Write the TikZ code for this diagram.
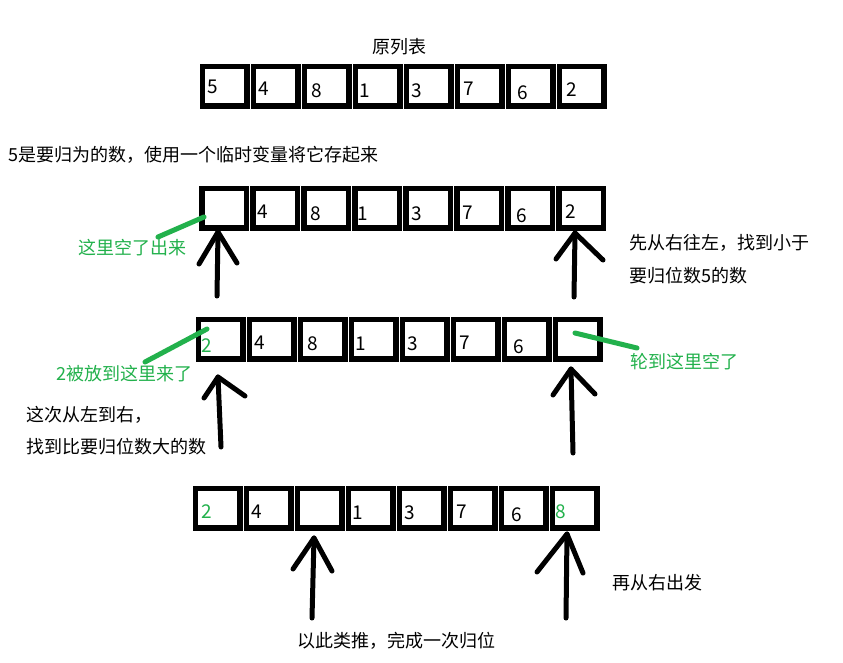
\documentclass[tikz,border=0pt]{standalone}
\usepackage{fontspec}
\setmainfont{Noto Sans CJK SC}
\definecolor{pgreen}{HTML}{22B14C}
\begin{document}
\begin{tikzpicture}[x=1pt,y=-1pt,
  cell/.style={draw=black,line width=5.5pt,minimum width=44.5pt,minimum height=39.5pt,inner sep=0pt,anchor=north west},
  num/.style={inner sep=0pt,font=\fontsize{19}{19}\selectfont},
  gnum/.style={num,text=pgreen},
  lbl/.style={inner sep=0pt,font=\fontsize{18}{18}\selectfont,anchor=west},
  glbl/.style={lbl,text=pgreen},
  arr/.style={line width=5pt,line cap=round,line join=round},
  gline/.style={line width=5pt,draw=pgreen,line cap=round}]
\useasboundingbox (0,0) rectangle (843,662);
\fill[white] (0,0) rectangle (843,662);

% rows of cells
\foreach \i in {0,...,7} {
  \node[cell] (a\i) at ({199.75+51*\i},63.75) {};
  \node[cell] (b\i) at ({199.25+51*\i},185.75) {};
  \node[cell] (c\i) at ({195.75+51*\i},316.75) {};
  \node[cell] (d\i) at ({192.75+51*\i},485.75) {};
}

% row 1 numbers
\node[num] (na0) at (213,87) {5};
\node[num] (na1) at (264,89) {4};
\node[num] (na2) at (317,91) {8};
\node[num] (na3) at (365,91) {1};
\node[num] (na4) at (417,91) {3};
\node[num] (na5) at (469,89) {7};
\node[num] (na6) at (523,93) {6};
\node[num] (na7) at (572,90) {2};

% row 2 numbers
\node[num] (nb1) at (263,212) {4};
\node[num] (nb2) at (316,214) {8};
\node[num] (nb3) at (363,214) {1};
\node[num] (nb4) at (417,214) {3};
\node[num] (nb5) at (468,213) {7};
\node[num] (nb6) at (522,216) {6};
\node[num] (nb7) at (571,212) {2};

% row 3 numbers
\node[gnum] (nc0) at (207,346) {2};
\node[num] (nc1) at (260,343) {4};
\node[num] (nc2) at (313,344) {8};
\node[num] (nc3) at (361,344) {1};
\node[num] (nc4) at (413,344) {3};
\node[num] (nc5) at (465,343) {7};
\node[num] (nc6) at (519,347) {6};

% row 4 numbers
\node[gnum] (nd0) at (207,512) {2};
\node[num] (nd1) at (257,512) {4};
\node[num] (nd3) at (358,513) {1};
\node[num] (nd4) at (410,513) {3};
\node[num] (nd5) at (462,512) {7};
\node[num] (nd6) at (517,515) {6};
\node[gnum] (nd7) at (561,512) {8};

% texts
\node[inner sep=0pt,font=\fontsize{18}{18}\selectfont] (title) at (399,47) {原列表};
\node[lbl] (t1) at (8,155) {5是要归为的数，使用一个临时变量将它存起来};
\node[glbl] (g1) at (78,248) {这里空了出来};
\node[lbl] (t2) at (629,243) {先从右往左，找到小于};
\node[lbl] (t3) at (629,276) {要归位数5的数};
\node[glbl] (g2) at (56,374) {2被放到这里来了};
\node[lbl] (t4) at (26,415) {这次从左到右，};
\node[lbl] (t5) at (26,447) {找到比要归位数大的数};
\node[glbl] (g3) at (630,362) {轮到这里空了};
\node[lbl] (t6) at (612,583) {再从右出发};
\node[lbl] (t7) at (297,641) {以此类推，完成一次归位};

% green pointer lines
\coordinate (p1a) at (158,237); \coordinate (p1b) at (204,217);
\coordinate (p2a) at (145,362); \coordinate (p2b) at (207,329);
\coordinate (p3a) at (575,333); \coordinate (p3b) at (637,348);
\draw[gline] (p1a) -- (p1b);
\draw[gline] (p2a) -- (p2b);
\draw[gline] (p3a) -- (p3b);

% arrows (hand drawn)
\coordinate (A1t) at (218,232); \coordinate (A1l) at (199,264); \coordinate (A1r) at (237,263); \coordinate (A1b) at (217,296);
\coordinate (A2t) at (575,233); \coordinate (A2l) at (556,259); \coordinate (A2r) at (603,260); \coordinate (A2b) at (574,297);
\coordinate (A3t) at (218,377); \coordinate (A3l) at (204,398); \coordinate (A3r) at (245,396); \coordinate (A3b) at (221,447);
\coordinate (A4t) at (571,369); \coordinate (A4l) at (553,395); \coordinate (A4r) at (595,394); \coordinate (A4b) at (573,453);
\coordinate (A5t) at (314,538); \coordinate (A5l) at (293,569); \coordinate (A5r) at (332,571); \coordinate (A5b) at (312,618);
\coordinate (A6t) at (567,534); \coordinate (A6l) at (537,572); \coordinate (A6r) at (583,573); \coordinate (A6b) at (566,618);
\foreach \k in {1,...,6} {
  \draw[arr] (A\k b) -- (A\k t);
  \draw[arr] (A\k l) -- (A\k t) -- (A\k r);
}
\end{tikzpicture}
\end{document}
